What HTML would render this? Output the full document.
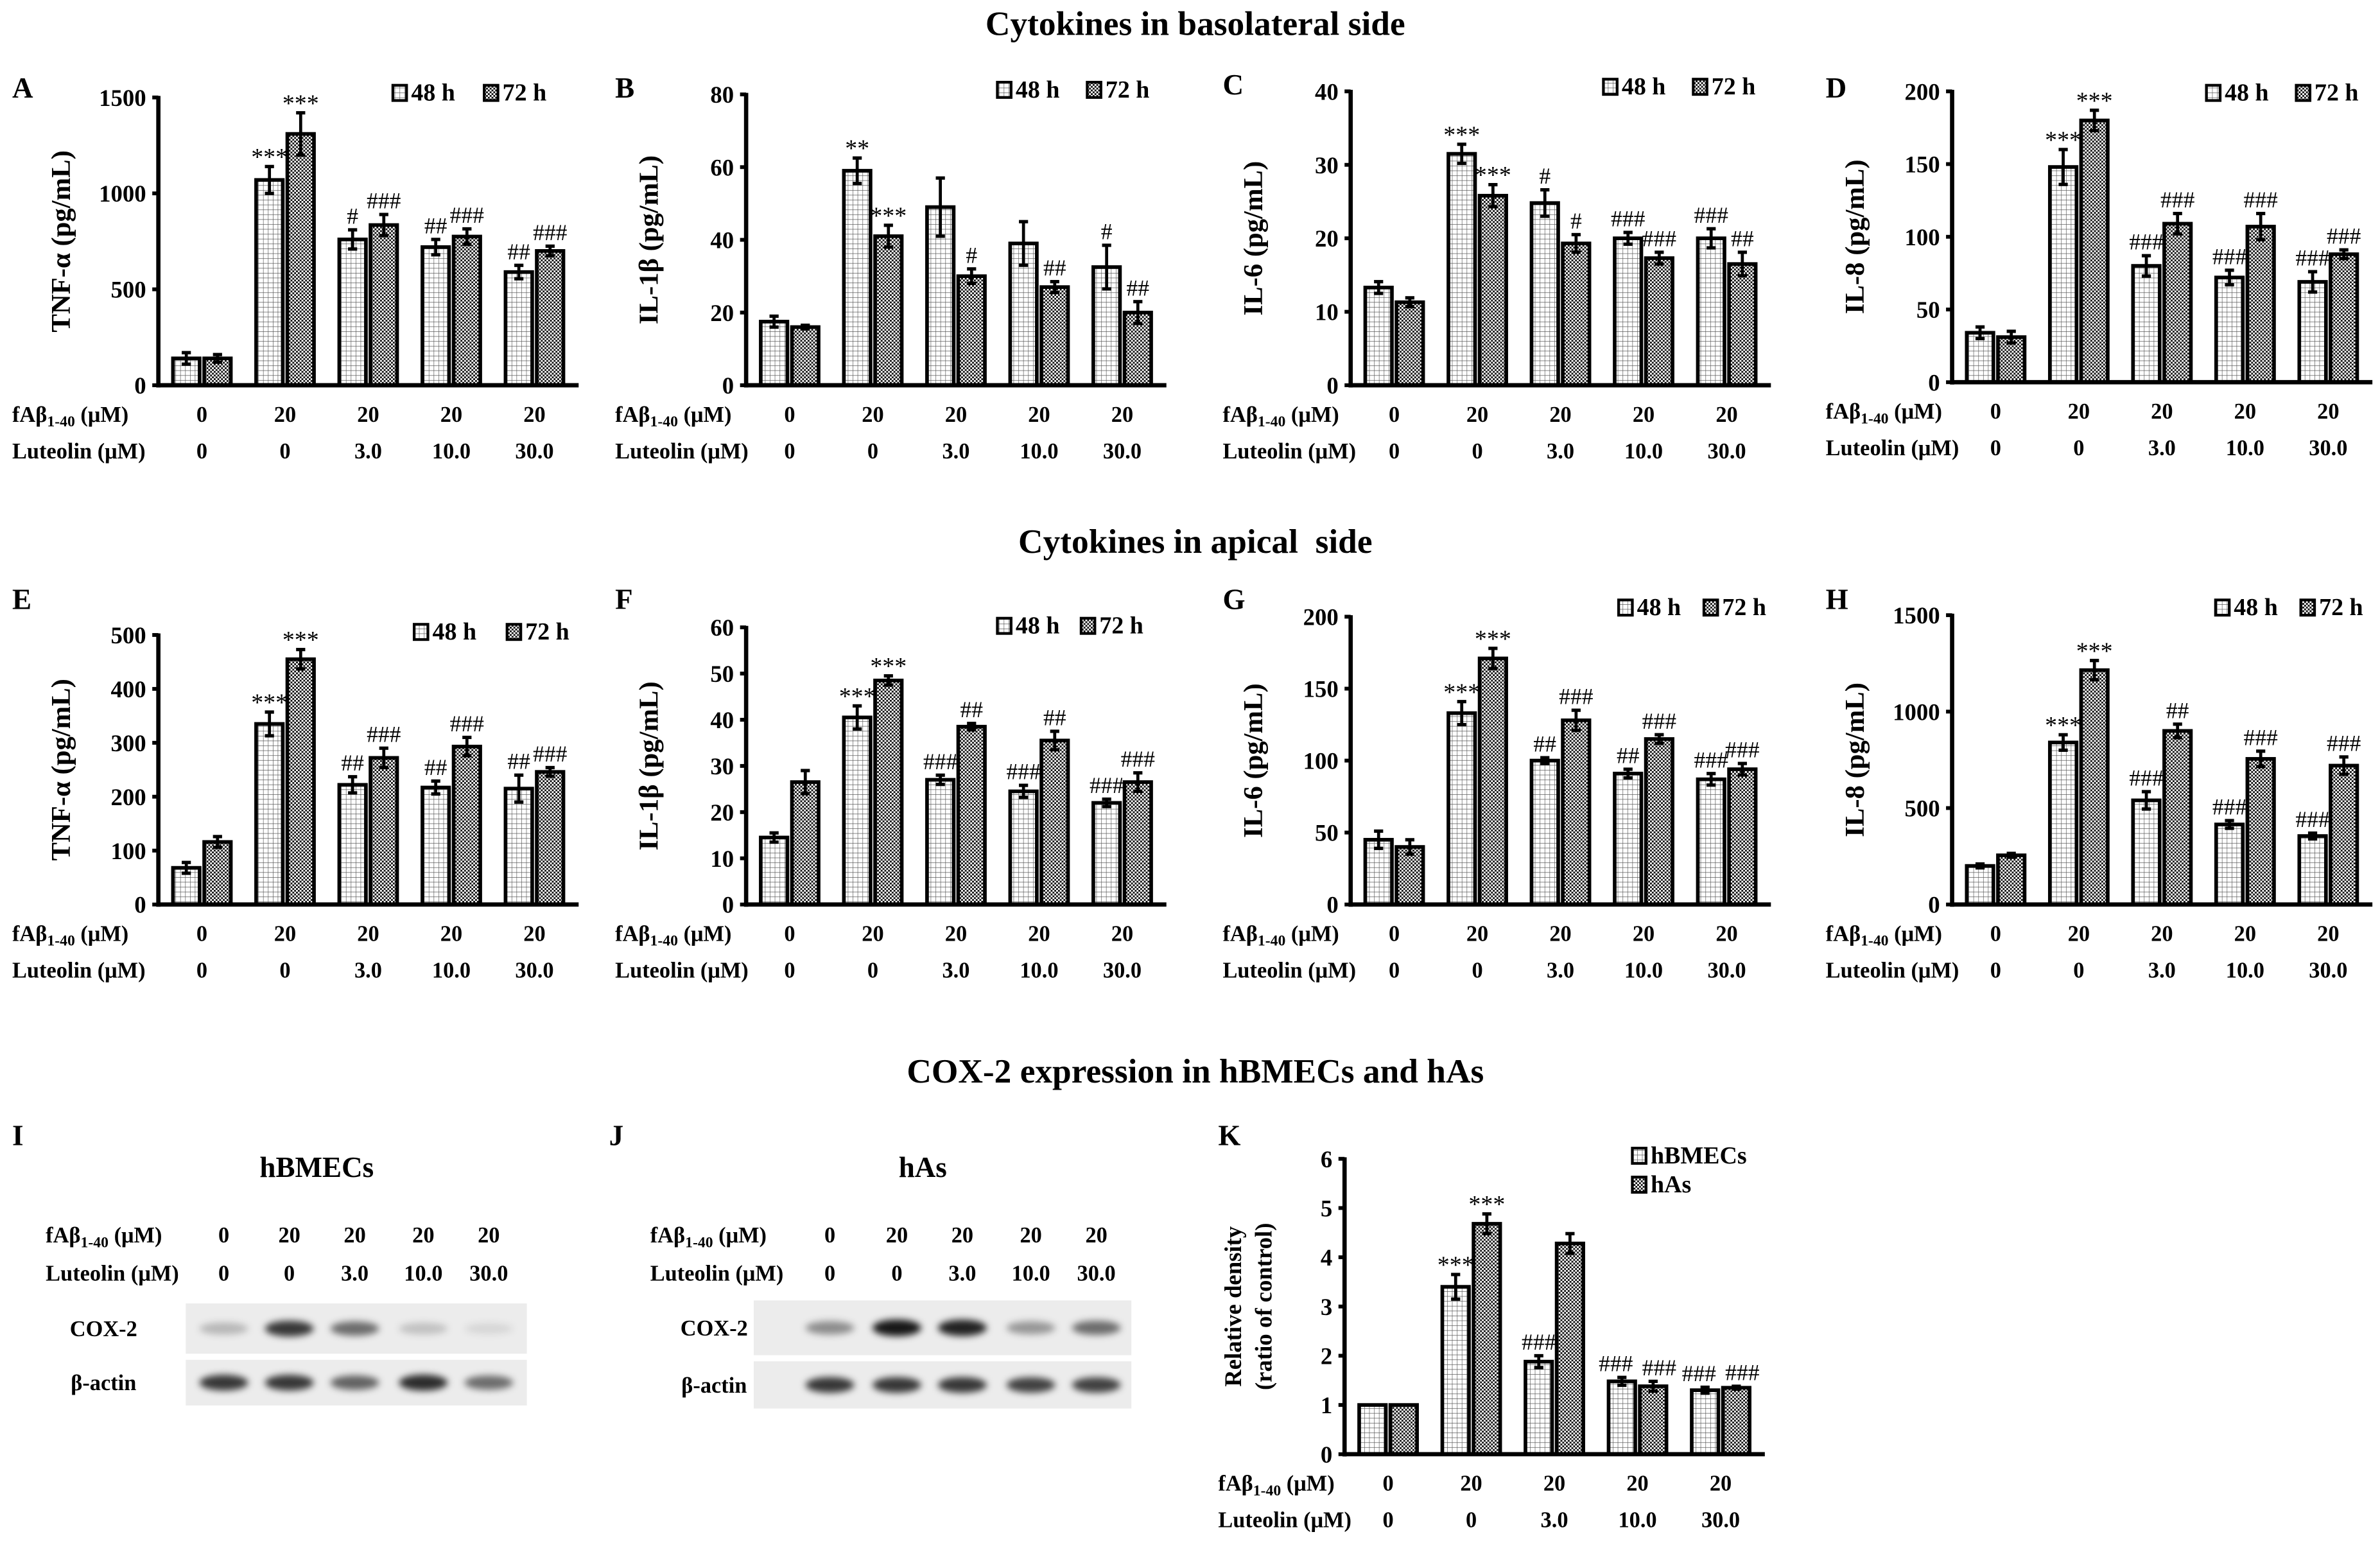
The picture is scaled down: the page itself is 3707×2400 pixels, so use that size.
<!DOCTYPE html>
<html><head><meta charset="utf-8"><style>
html,body{margin:0;padding:0;background:#fff;}
svg{display:block;font-family:"Liberation Serif","Times New Roman",serif;}
</style></head><body>
<svg id="fig" width="3707" height="2400" viewBox="0 0 1563 1012" preserveAspectRatio="none" xmlns="http://www.w3.org/2000/svg">
<defs>
<pattern id="p48" patternUnits="userSpaceOnUse" width="3.2" height="3.2"><rect width="3.2" height="3.2" fill="#fff"/><path d="M0 0H3.2M0 0V3.2" stroke="#555" stroke-width="0.55"/></pattern>
<pattern id="p72" patternUnits="userSpaceOnUse" width="2.4" height="2.4"><rect width="2.4" height="2.4" fill="#fff"/><rect width="1.2" height="1.2" fill="#111"/><rect x="1.2" y="1.2" width="1.2" height="1.2" fill="#111"/></pattern>
<filter id="blur" x="-50%" y="-100%" width="200%" height="300%"><feGaussianBlur stdDeviation="2.2"/></filter>
</defs>
<g font-weight="bold" font-size="22.5" text-anchor="middle">
<text x="785" y="23">Cytokines in basolateral side</text>
<text x="785" y="363" xml:space="preserve">Cytokines in apical  side</text>
<text x="785" y="711">COX-2 expression in hBMECs and hAs</text>
</g>
<g id="charts"></g>
<g id="blots"></g>
</svg>
<script>
const NS='http://www.w3.org/2000/svg';
const fabLabels=['0','20','20','20','20'];
const lutLabels=['0','0','3.0','10.0','30.0'];
// A TNF basolateral
const aVals48=[140,1070,760,720,590], aErr48=[30,70,50,40,35], aVals72=[140,1310,835,775,700], aErr72=[20,110,55,40,25];
const aMarks48=['','***','#','##','##'], aMarks72=['','***','###','###','###'];
const aTicks=[0,500,1000,1500];
// B IL-1b
const bVals48=[17.5,59,49,39,32.5], bErr48=[1.5,3.5,8,6,6], bVals72=[16,41,30,27,20], bErr72=[0.5,3,2,1.5,3];
const bMarks48=['','**','','','#'], bMarks72=['','***','#','##','##'];
const bTicks=[0,20,40,60,80];
// C IL-6
const cVals48=[13.3,31.5,24.8,20,20], cErr48=[0.8,1.3,1.8,0.8,1.3], cVals72=[11.3,25.8,19.3,17.3,16.5], cErr72=[0.6,1.5,1.2,0.8,1.6];
const cMarks48=['','***','#','###','###'], cMarks72=['','***','#','###','##'];
const cTicks=[0,10,20,30,40];
// D IL-8
const dVals48=[34,148,80,72,69], dErr48=[4,12,7,5,7], dVals72=[31,180,109,107,88], dErr72=[4,7,7,9,3];
const dMarks48=['','***','###','###','###'], dMarks72=['','***','###','###','###'];
const dTicks=[0,50,100,150,200];
// E TNF apical
const eVals48=[68,335,222,217,215], eErr48=[10,22,15,12,25], eVals72=[116,455,272,293,246], eErr72=[10,18,18,17,8];
const eMarks48=['','***','##','##','##'], eMarks72=['','***','###','###','###'];
const eTicks=[0,100,200,300,400,500];
// F IL-1b apical
const fVals48=[14.5,40.5,27,24.5,22], fErr48=[1,2.5,1,1.3,0.8], fVals72=[26.5,48.5,38.5,35.5,26.5], fErr72=[2.5,1,0.7,2,2];
const fMarks48=['','***','###','###','###'], fMarks72=['','***','##','##','###'];
const fTicks=[0,10,20,30,40,50,60];
// G IL-6 apical
const gVals48=[45,133,100,91,87], gErr48=[6,8,2,3,4], gVals72=[40,171,128,115,94], gErr72=[5,7,7,3,4];
const gMarks48=['','***','##','##','###'], gMarks72=['','***','###','###','###'];
const gTicks=[0,50,100,150,200];
// H IL-8 apical
const hVals48=[200,840,540,415,355], hErr48=[10,40,45,20,15], hVals72=[255,1215,900,755,720], hErr72=[10,50,35,40,45];
const hMarks48=['','***','###','###','###'], hMarks72=['','***','##','###','###'];
const hTicks=[0,500,1000,1500];
// K relative density
const kValsB=[1,3.4,1.88,1.48,1.3], kErrB=[0,0.25,0.12,0.08,0.06], kValsA=[1,4.68,4.28,1.38,1.35], kErrA=[0,0.2,0.2,0.1,0.03];
const kMarksB=['','***','###','###','###'], kMarksA=['','***','','###','###'];
const kTicks=[0,1,2,3,4,5,6];
// blot band intensities (0-1)
const iCox=[0.25,0.85,0.6,0.2,0.1], iAct=[0.85,0.85,0.65,0.9,0.6];
const jCox=[0.45,1,0.95,0.4,0.6], jAct=[0.85,0.85,0.85,0.8,0.8];

const root=document.getElementById('charts');
function el(tag,attrs,parent,txt){const e=document.createElementNS(NS,tag);for(const k in attrs)e.setAttribute(k,attrs[k]);if(txt!==undefined)e.textContent=txt;(parent||root).appendChild(e);return e;}

function panel(c){
  const g=el('g',{});
  
  
  const sp=54.6, first=c.ax+28.6, xEnd=first+4*sp+29;
  const max=c.ticks[c.ticks.length-1];
  const ys=v=>c.y0-(v/max)*(c.y0-c.yTop);
  const xc=i=>first+i*sp;
  const lt=el('text',{x:c.lx,y:c.ly,'font-size':19,'font-weight':'bold'},g,c.letter);
  
  
  const yt=el('g',{transform:`translate(${c.ax-64},${(c.y0+c.yTop)/2}) rotate(-90)`},g);
  
  
  c.ytitle.forEach((t,i)=>el('text',{x:0,y:i*20-(c.ytitle.length-1)*10+6,'text-anchor':'middle','font-size':c.yfs||18,'font-weight':'bold'},yt,t));
  c.ticks.forEach(t=>{
    const tl=el('text',{x:c.ax-8,y:ys(t)+5.5,'text-anchor':'end','font-size':15.5,'font-weight':'bold'},g,String(t));
    
    
    el('line',{x1:c.ax-4,x2:c.ax,y1:ys(t),y2:ys(t),stroke:'#000','stroke-width':2.5},g);
  });
  const series=[[c.v1,c.e1,c.m1,'url(#p48)',-1],[c.v2,c.e2,c.m2,'url(#p72)',1]];
  series.forEach(([vals,errs,marks,fill,side],si)=>{
    vals.forEach((v,i)=>{
      const bw=17.5, x=side<0?xc(i)-1.5-bw:xc(i)+1.5;
      const b=el('rect',{x:x,y:ys(v),width:bw,height:c.y0-ys(v),fill:fill,stroke:'#000','stroke-width':2.4},g);
      
      
      const cx=x+bw/2, e=errs[i];
      if(e>0){
        el('line',{x1:cx,x2:cx,y1:ys(v+e),y2:ys(v-e),stroke:'#000','stroke-width':2},g);
        el('line',{x1:cx-3,x2:cx+3,y1:ys(v+e),y2:ys(v+e),stroke:'#000','stroke-width':2.2},g);
        el('line',{x1:cx-3,x2:cx+3,y1:ys(v-e),y2:ys(v-e),stroke:'#000','stroke-width':2.2},g);
      }
      if(marks[i]){
        const star=marks[i][0]==='*';
        const dx=(c.shift&&!star&&i>=3)?(si?4:-4):0;
        const m=el('text',{x:cx+dx,y:ys(v+e)-(star?1:4),'text-anchor':'middle','font-size':star?16:15},g,marks[i]);
        
        
      }
    });
  });
  el('line',{x1:c.ax,x2:c.ax,y1:c.yTop-1,y2:c.y0+1.5,stroke:'#000','stroke-width':2.8},g);
  el('line',{x1:c.ax,x2:xEnd,y1:c.y0,y2:c.y0,stroke:'#000','stroke-width':2.8},g);
  const r1=el('text',{x:c.lx,y:c.y0+24,'font-size':14.5,'font-weight':'bold'},g);
  
  
  el('tspan',{},r1,'fAβ');el('tspan',{'font-size':10,dy:3},r1,'1-40');el('tspan',{dy:-3},r1,' (μM)');
  const r2=el('text',{x:c.lx,y:c.y0+48,'font-size':14.5,'font-weight':'bold'},g,'Luteolin (μM)');
  
  
  fabLabels.forEach((t,i)=>{
    const a=el('text',{x:xc(i),y:c.y0+24,'text-anchor':'middle','font-size':14.5,'font-weight':'bold'},g,t);
    
    
    const b=el('text',{x:xc(i),y:c.y0+48,'text-anchor':'middle','font-size':14.5,'font-weight':'bold'},g,lutLabels[i]);
    
    
  });
  c.leg.forEach((L,i)=>{
    const lg=el('g',{},g);
    
    
    el('rect',{x:L[0],y:L[1]-10,width:9,height:10,fill:i?'url(#p72)':'url(#p48)',stroke:'#000','stroke-width':1.8},lg);
    el('text',{x:L[0]+12,y:L[1],'font-size':16,'font-weight':'bold'},lg,L[2]);
  });
}
const cols=[104,490,887,1282];
panel({key:'a-tnf-basolateral',letter:'A',lx:8,ly:64,ax:cols[0],y0:253,yTop:64,ticks:aTicks,ytitle:['TNF-α (pg/mL)'],v1:aVals48,e1:aErr48,v2:aVals72,e2:aErr72,m1:aMarks48,m2:aMarks72,n1:'48h',n2:'72h',leg:[[258,66,'48 h'],[318,66,'72 h']]});
panel({key:'b-il1b-basolateral',letter:'B',lx:404,ly:64,ax:cols[1],y0:253,yTop:62,ticks:bTicks,ytitle:['IL-1β (pg/mL)'],v1:bVals48,e1:bErr48,v2:bVals72,e2:bErr72,m1:bMarks48,m2:bMarks72,n1:'48h',n2:'72h',leg:[[655,64,'48 h'],[714,64,'72 h']]});
panel({key:'c-il6-basolateral',letter:'C',lx:803,ly:62,ax:cols[2],y0:253,yTop:60,ticks:cTicks,ytitle:['IL-6 (pg/mL)'],v1:cVals48,e1:cErr48,v2:cVals72,e2:cErr72,m1:cMarks48,m2:cMarks72,n1:'48h',n2:'72h',leg:[[1053,62,'48 h'],[1112,62,'72 h']]});
panel({key:'d-il8-basolateral',letter:'D',lx:1199,ly:64,ax:cols[3],y0:251,yTop:60,ticks:dTicks,ytitle:['IL-8 (pg/mL)'],v1:dVals48,e1:dErr48,v2:dVals72,e2:dErr72,m1:dMarks48,m2:dMarks72,n1:'48h',n2:'72h',leg:[[1449,66,'48 h'],[1508,66,'72 h']]});
panel({key:'e-tnf-apical',letter:'E',lx:8,ly:400,ax:cols[0],y0:594,yTop:417,ticks:eTicks,ytitle:['TNF-α (pg/mL)'],v1:eVals48,e1:eErr48,v2:eVals72,e2:eErr72,m1:eMarks48,m2:eMarks72,n1:'48h',n2:'72h',leg:[[272,420,'48 h'],[333,420,'72 h']]});
panel({key:'f-il1b-apical',letter:'F',lx:404,ly:400,ax:cols[1],y0:594,yTop:412,ticks:fTicks,ytitle:['IL-1β (pg/mL)'],v1:fVals48,e1:fErr48,v2:fVals72,e2:fErr72,m1:fMarks48,m2:fMarks72,n1:'48h',n2:'72h',leg:[[655,416,'48 h'],[710,416,'72 h']]});
panel({key:'g-il6-apical',letter:'G',lx:803,ly:400,ax:cols[2],y0:594,yTop:405,ticks:gTicks,ytitle:['IL-6 (pg/mL)'],v1:gVals48,e1:gErr48,v2:gVals72,e2:gErr72,m1:gMarks48,m2:gMarks72,n1:'48h',n2:'72h',leg:[[1063,404,'48 h'],[1119,404,'72 h']]});
panel({key:'h-il8-apical',letter:'H',lx:1199,ly:400,ax:cols[3],y0:594,yTop:404,ticks:hTicks,ytitle:['IL-8 (pg/mL)'],v1:hVals48,e1:hErr48,v2:hVals72,e2:hErr72,m1:hMarks48,m2:hMarks72,n1:'48h',n2:'72h',leg:[[1455,404,'48 h'],[1511,404,'72 h']]});
panel({key:'k-relative-density',letter:'K',lx:800,ly:752,ax:883,y0:955,yTop:761,ticks:kTicks,ytitle:['Relative density','(ratio of control)'],yfs:15.5,v1:kValsB,e1:kErrB,v2:kValsA,e2:kErrA,m1:kMarksB,m2:kMarksA,n1:'hbmecs',n2:'has',shift:true,leg:[[1072,764,'hBMECs'],[1072,783,'hAs']]});

function blot(c){
  const g=el('g',{});
  
  
  const lt=el('text',{x:c.lx,y:752,'font-size':19,'font-weight':'bold'},g,c.letter);
  
  
  const tt=el('text',{x:c.tx,y:773,'text-anchor':'middle','font-size':19,'font-weight':'bold'},g,c.title);
  
  
  const r1=el('text',{x:c.labx,y:816,'font-size':14.5,'font-weight':'bold'},g);
  
  
  el('tspan',{},r1,'fAβ');el('tspan',{'font-size':10,dy:3},r1,'1-40');el('tspan',{dy:-3},r1,' (μM)');
  const r2=el('text',{x:c.labx,y:841,'font-size':14.5,'font-weight':'bold'},g,'Luteolin (μM)');
  
  
  c.cols.forEach((x,i)=>{
    el('text',{x:x,y:816,'text-anchor':'middle','font-size':14.5,'font-weight':'bold'},g,fabLabels[i]);
    el('text',{x:x,y:841,'text-anchor':'middle','font-size':14.5,'font-weight':'bold'},g,lutLabels[i]);
  });
  [[c.cy,c.cox,'COX-2'],[c.ay,c.act,'β-actin']].forEach(([y,ints,name])=>{
    const bx=el('rect',{x:c.bx,y:y[0],width:c.bw,height:y[1]-y[0],fill:'#ececec'},g);
    
    
    const mid=(y[0]+y[1])/2;
    ints.forEach((v,i)=>{
      el('ellipse',{cx:c.cols[i],cy:mid,rx:16,ry:3.5+v*2,fill:'#000','fill-opacity':v*0.9,filter:'url(#blur)'},g);
    });
    el('text',{x:c.nx,y:mid+5,'text-anchor':'middle','font-size':14.5,'font-weight':'bold'},g,name);
  });
}
blot({key:'hbmecs',letter:'I',lx:8,tx:208,title:'hBMECs',labx:30,cols:[147,190,233,278,321],bx:122,bw:224,cy:[856,889],ay:[893,923],cox:iCox,act:iAct,nx:68});
blot({key:'has',letter:'J',lx:400,tx:606,title:'hAs',labx:427,cols:[545,589,632,677,720],bx:495,bw:248,cy:[854,890],ay:[894,925],cox:jCox,act:jAct,nx:469});
</script>
</body></html>
